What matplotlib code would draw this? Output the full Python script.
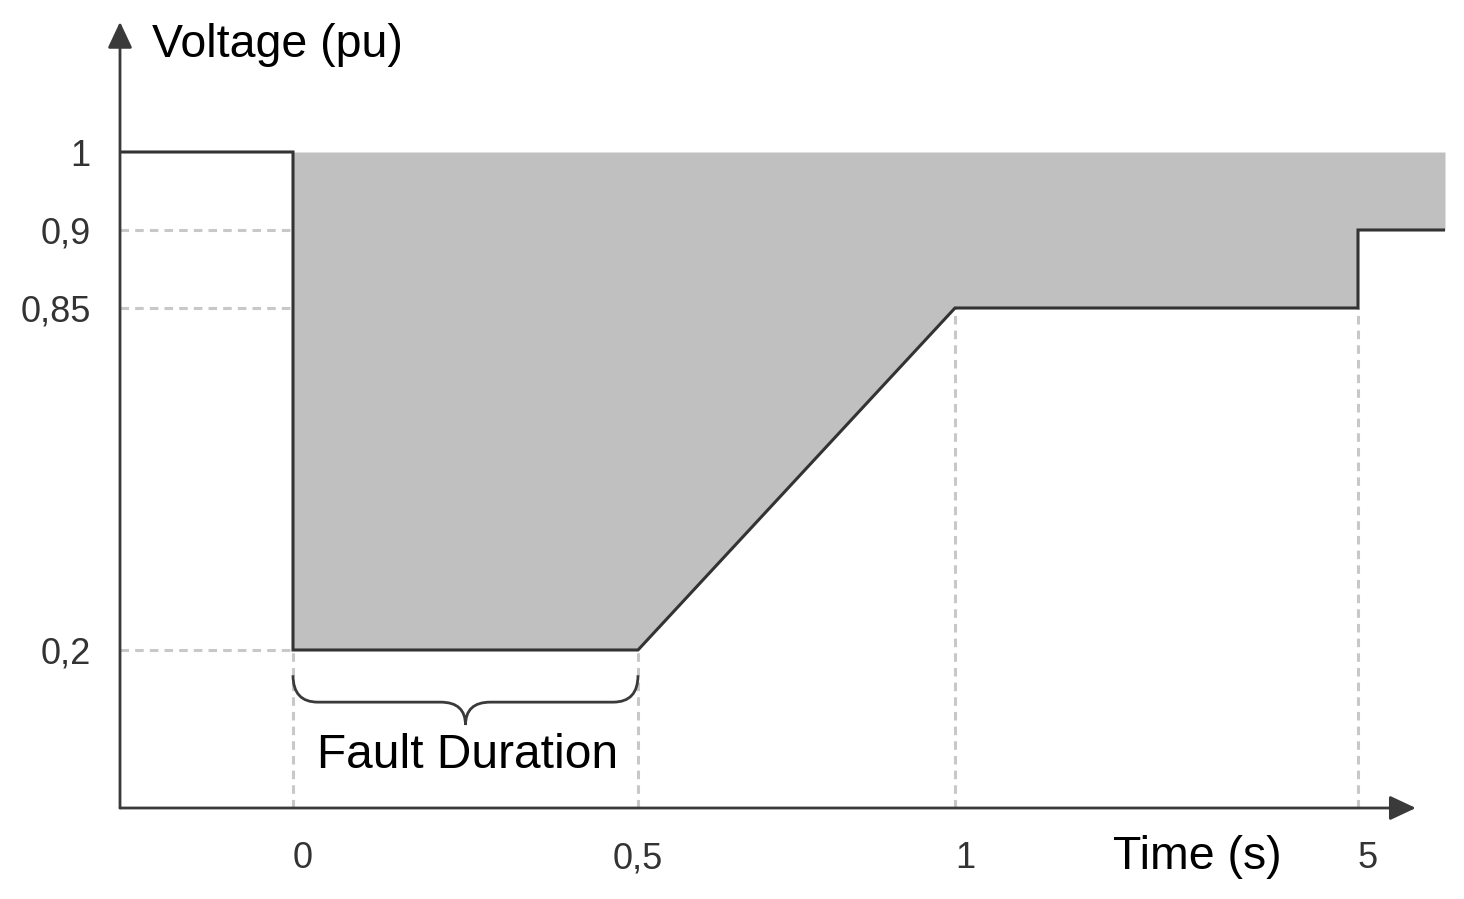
import numpy as np
import matplotlib
matplotlib.use("Agg")
from matplotlib import pyplot as plt
from matplotlib.path import Path
from matplotlib.patches import PathPatch
import matplotlib.transforms as mtransforms

plt.rcParams['font.family'] = ['Liberation Sans', 'DejaVu Sans']

# curva limite de tension (pu) vs tiempo (s)
t_curva = [0, 0, 0.5, 1, 5, 5, 5.275]
v_curva = [1, 0.2, 0.2, 0.85, 0.85, 0.9, 0.9]
t_antes = [-0.25, 0]
v_antes = [1, 1]

xticks = [0, 0.5, 1, 5]
xlabels = ['0', '0,5', '1', '5']
yticks = [0.2, 0.85, 0.9, 1]
ylabels = ['0,2', '0,85', '0,9', '1']

# escala esquematica (no lineal) del dibujo
x_anc = [-0.25, 0, 0.5, 1, 5, 5.275]
x_pos = [0, 173, 518, 835, 1238, 1325]
y_anc = [0, 0.2, 0.85, 0.9, 1, 1.2]
y_pos = [0, 158, 500, 578, 656, 783]

def fx(v): return np.interp(v, x_anc, x_pos)
def ix(v): return np.interp(v, x_pos, x_anc)
def fy(v): return np.interp(v, y_anc, y_pos)
def iy(v): return np.interp(v, y_pos, y_anc)

W, H = 1464, 899
fig = plt.figure(figsize=(W / 100, H / 100), dpi=100)
ax = fig.add_axes([120 / W, (H - 808) / H, 1325 / W, 783 / H])
ax.set_xscale('function', functions=(fx, ix))
ax.set_yscale('function', functions=(fy, iy))
ax.set_xlim(-0.25, 5.275)
ax.set_ylim(0, 1.2)
for s in ax.spines.values():
    s.set_visible(False)

gris = '#c0c0c0'
linea = '#333333'
guia = '#c8c8c8'
rayas = (2.8, 2.0)

# zona sombreada
ax.fill_between(t_curva, v_curva, 1, color=gris, lw=0, zorder=1)

# guias discontinuas
for yv in [0.9, 0.85, 0.2]:
    ax.plot([-0.25, 0], [yv, yv], color=guia, lw=2.2, dashes=rayas, zorder=2)
ax.plot([0, 0], [0, 0.2], color=guia, lw=2.2, dashes=rayas, zorder=2)
ax.plot([0.5, 0.5], [0, 0.2], color=guia, lw=2.2, dashes=rayas, zorder=2)
ax.plot([1, 1], [0, 0.85], color=guia, lw=2.2, dashes=rayas, zorder=2)
ax.plot([5, 5], [0, 0.85], color=guia, lw=2.2, dashes=rayas, zorder=2)

# curva
ax.plot(t_antes + t_curva, v_antes + v_curva, color=linea, lw=2.2, zorder=3,
        solid_joinstyle='miter')

# ejes con flecha
flecha = dict(arrowstyle='-|>,head_length=1.6,head_width=0.75',
              color='#3a3a3a', lw=2, shrinkA=0, shrinkB=0)
ax.annotate('', xy=(0.978, 0), xytext=(0, 0), xycoords='axes fraction',
            arrowprops=flecha, annotation_clip=False)
ax.annotate('', xy=(0, 1.004), xytext=(0, 0), xycoords='axes fraction',
            arrowprops=flecha, annotation_clip=False)

# llave "Fault Duration"
x0, x1 = 0, 0.5
xm = (x0 + x1) / 2
r = 0.036
ytop, ymid, ytip = 0.168, 0.134, 0.105
verts = [(x0, ytop), (x0, ymid), (x0 + r, ymid), (xm - r, ymid),
         (xm, ymid), (xm, ytip), (xm, ymid), (xm + r, ymid),
         (x1 - r, ymid), (x1, ymid), (x1, ytop)]
codes = [Path.MOVETO, Path.CURVE3, Path.CURVE3, Path.LINETO,
         Path.CURVE3, Path.CURVE3, Path.CURVE3, Path.CURVE3,
         Path.LINETO, Path.CURVE3, Path.CURVE3]
ax.add_patch(PathPatch(Path(verts, codes), fill=False, ec='#3a3a3a', lw=2, zorder=3))
ax.text(xm + 0.003, 0.067, 'Fault Duration', fontsize=34.5, ha='center', va='center',
        color='black')

# ticks
ax.set_xticks(xticks, xlabels)
ax.set_yticks(yticks, ylabels)
ax.tick_params(axis='x', length=0, pad=24, labelsize=26, labelcolor='#333333')
ax.tick_params(axis='y', length=0, pad=21, labelsize=26, labelcolor='#333333')
for lab in ax.get_xticklabels():
    if ',' not in lab.get_text():
        lab.set_transform(lab.get_transform() +
                          mtransforms.ScaledTranslation(10 / 100, 0, fig.dpi_scale_trans))

# titulos de ejes
ax.text(32 / 1325, 1.0 - 20 / 783, 'Voltage (pu)', transform=ax.transAxes,
        fontsize=33.5, ha='left', va='center', color='black')
ax.text((1197 - 120) / 1325, -49 / 783, 'Time (s)', transform=ax.transAxes,
        fontsize=33.5, ha='center', va='center', color='black')

fig.savefig('out.png', dpi=100)
